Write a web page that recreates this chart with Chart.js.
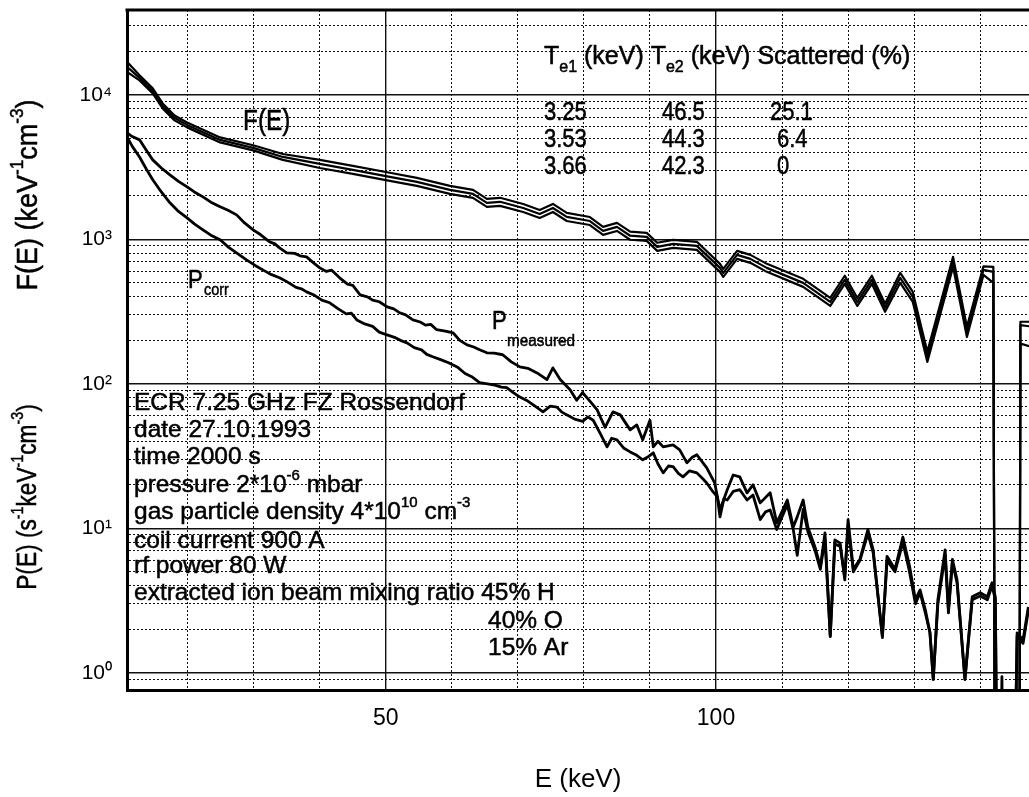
<!DOCTYPE html>
<html>
<head>
<meta charset="utf-8">
<title>ECR bremsstrahlung spectrum</title>
<script src="https://cdn.jsdelivr.net/npm/chart.js@4.4.1/dist/chart.umd.min.js"></script>
<style>
  html, body { margin: 0; padding: 0; background: #fff; }
</style>
</head>
<body>
<canvas id="chart" width="1029" height="797"></canvas>
<script>
// F(E): three fits (one per row of the table)
const fEnergy = [10.8, 12.7, 14.7, 16.2, 18.0, 19.9, 24.9, 29.9, 34.4, 40.0, 45.0, 50.6, 54.7, 59.7, 63.2, 65.3, 67.3,
  70.8, 73.3, 75.3, 77.4, 80.9, 82.9, 85.0, 87.0, 89.5, 91.1, 93.5, 97.1, 100.6, 101.1, 103.2, 105.2, 107.7, 113.2,
  117.3, 119.5, 121.4, 123.6, 125.6, 127.9, 129.8, 132.0, 135.9, 138.0, 140.5, 142.0, 142.3, 145.9, 146.1, 147.5];
const fTop = [16930, 13660, 11100, 8730, 7210, 6450, 5080, 4480, 3900, 3550, 3230, 2890, 2665, 2345, 2200, 1908, 1940,
  1759, 1599, 1759, 1524, 1428, 1221, 1300, 1130, 1109, 947, 992, 962, 677, 625, 833, 781, 677, 533,
  393, 560, 393, 560, 358, 587, 433, 167, 757, 248, 650, 645, 0.01, 0.01, 269, 269];
const fMid = [15630, 13120, 10660, 8390, 6930, 6200, 4880, 4300, 3720, 3330, 3030, 2710, 2500, 2200, 2065, 1790, 1820,
  1650, 1500, 1650, 1430, 1340, 1145, 1220, 1060, 1040, 888, 931, 902, 635, 586, 781, 733, 635, 500,
  369, 525, 369, 525, 336, 542, 400, 154, 699, 229, 615, 596, 0.01, 0.01, 255, 250];
const fBottom = [14430, 12600, 10240, 8060, 6660, 5960, 4690, 4130, 3550, 3120, 2840, 2540, 2345, 2065, 1937, 1679, 1707,
  1548, 1407, 1548, 1341, 1257, 1074, 1144, 994, 976, 833, 873, 846, 596, 550, 733, 688, 596, 469,
  346, 492, 346, 492, 315, 500, 369, 142, 645, 211, 568, 500, 0.01, 0.01, 190, 182];

// P measured
const measEnergy = [10.8, 11.6, 12.7, 13.7, 14.7, 16.0, 17.3, 18.6, 19.9, 21.0, 22.3, 23.5, 24.9, 26.1, 27.4, 28.6, 29.9,
  31.0, 32.4, 33.2, 33.9, 35.0, 36.2, 37.0, 38.0, 39.0, 40.0, 41.0, 41.8, 43.0, 44.2, 45.0, 46.1, 47.2, 48.0, 49.0,
  50.2, 51.2, 52.0, 53.0, 54.1, 55.2, 56.0, 56.8, 57.7, 59.0, 60.2, 61.2, 62.3, 63.3, 64.2, 65.3, 66.4, 67.7, 69.0,
  70.3, 71.5, 72.9, 74.4, 75.3, 76.4, 77.9, 78.9, 79.8, 81.0, 82.0, 83.2, 84.4, 85.5, 87.0, 88.0, 88.9, 90.0, 90.5,
  91.2, 92.0, 93.5, 94.5, 95.6, 96.4, 97.1, 98.6, 99.8, 100.6, 101.7, 102.6, 103.6, 104.7, 105.6, 106.7, 108.2, 109.2,
  110.8, 111.7, 112.3, 113.2, 113.9, 115.0, 115.8, 116.5, 117.3, 118.0, 118.8, 119.5, 120.0, 120.8, 121.8, 123.0,
  123.8, 125.2, 125.9, 127.1, 128.3, 129.3, 130.2, 130.9, 131.7, 132.4, 132.9, 133.6, 134.7, 135.2, 135.8, 136.5,
  137.7, 138.8, 140.0, 141.1, 141.8, 142.3, 142.8, 143.3, 143.6, 144.8, 145.6, 146.5, 147.3];
const measValues = [5460, 5150, 4885, 4150, 3550, 3120, 2795, 2520, 2307, 2130, 1968, 1810, 1680, 1590, 1478, 1300, 1164,
  1080, 961, 930, 873, 807, 800, 770, 757, 690, 635, 600, 612, 542, 490, 480, 413, 400, 380, 370,
  341, 330, 312, 300, 277, 268, 255, 258, 237, 232, 225, 200, 186, 180, 172, 164, 163, 159, 142,
  131, 128, 119, 107, 129, 107, 91, 77, 87, 75, 66, 50, 64, 61, 48, 52, 41, 56, 36.6,
  40, 36.6, 37.8, 34.9, 28.4, 31, 32.3, 26.2, 20.6, 13.4, 18.5, 23.4, 22.7, 17.6, 20, 15, 17.6, 10.9,
  15.7, 10.2, 12, 15.7, 10.2, 7.4, 5.4, 9.3, 1.78, 8.3, 7.9, 4.4, 11.5, 5.2, 6.1, 9.8,
  7.1, 1.75, 6.4, 5.2, 8.7, 5.5, 3.2, 3.75, 2.73, 1.89, 0.9, 3.2, 7.1, 2.73, 6.1, 4.4,
  0.9, 3.36, 3.58, 3.36, 4.2, 3.36, 0.01, 0.94, 0.01, 0.01, 1.89, 1.69, 2.86];

// P corrected
const corrEnergy = [10.8, 11.6, 12.7, 13.7, 14.7, 16.0, 17.3, 18.6, 19.9, 21.0, 22.3, 23.5, 24.9, 26.2, 27.5, 28.9, 30.2,
  31.5, 32.7, 33.9, 35.0, 36.4, 37.2, 38.0, 39.2, 40.3, 41.5, 42.8, 44.0, 44.8, 45.6, 46.8, 48.0, 49.0, 50.2,
  51.3, 52.2, 53.2, 54.3, 55.4, 56.2, 57.1, 58.3, 59.5, 60.8, 62.0, 63.0, 64.2, 65.4, 66.5, 67.5, 68.3, 69.3,
  70.3, 71.5, 72.6, 73.8, 74.9, 75.9, 76.6, 77.4, 78.6, 79.8, 80.6, 81.4, 82.5, 83.5, 84.2, 85.0, 86.0, 87.0,
  88.0, 88.9, 89.6, 90.5, 91.2, 92.0, 92.8, 93.5, 94.3, 95.0, 96.0, 97.1, 98.0, 98.6, 99.5, 100.2, 100.6,
  101.2, 101.7, 102.6, 103.6, 104.7, 105.6, 106.7, 107.5, 108.2, 109.2, 110.8, 111.7, 112.3, 113.2, 113.9,
  115.0, 115.8, 116.5, 117.3, 118.0, 118.8, 119.5, 120.0, 120.8, 121.8, 123.0, 123.8, 125.2, 125.9, 127.1,
  128.3, 129.3, 130.2, 130.9, 131.7, 132.4, 132.9, 133.6, 134.7, 135.2, 135.8, 136.5, 137.7, 138.8, 140.0,
  141.1, 141.8, 142.3, 142.8, 144.8, 145.6, 146.5, 147.3];
const corrValues = [5120, 4400, 3720, 3080, 2585, 2130, 1790, 1560, 1409, 1280, 1164, 1070, 993, 880, 800, 721, 660,
  610, 570, 542, 510, 465, 455, 433, 410, 380, 364, 330, 305, 308, 277, 260, 250, 228, 218,
  210, 200, 192, 178, 172, 160, 154, 147, 140, 131, 118, 112, 102, 100, 98, 95, 94, 87,
  81, 76, 70, 64, 70, 69, 64, 61, 57, 55, 59, 56, 45, 36.6, 42, 41, 36, 33.8,
  32, 29.8, 31, 33.3, 28, 24.2, 27, 26.7, 24, 22.7, 25, 24.2, 22, 20.6, 18, 16.5, 12.0,
  16, 15.7, 18, 18.5, 15.7, 17, 11.5, 13, 13.4, 9.8, 14.6, 9.8, 6.5, 13.5, 9.5,
  7.0, 5.2, 8.5, 1.8, 7.8, 7.5, 4.6, 10.5, 5.0, 6.0, 9.2, 6.8, 1.8, 6.0, 5.0,
  8.0, 5.0, 3.0, 3.6, 2.6, 1.9, 0.9, 3.0, 6.5, 2.6, 5.8, 4.2, 0.9, 3.2, 3.4,
  3.2, 4.0, 3.2, 0.01, 0.01, 1.8, 1.6, 2.7];

// axes
const xGridTicks = [20, 30, 40, 50, 60, 70, 80, 90, 100, 110, 120, 130, 140];
const xLabelTicks = [50, 100];
const yDecades = [1, 10, 100, 1000, 10000];
const yTickLabels = ['10⁰', '10¹', '10²', '10³', '10⁴'];

// table of fit results
const te1 = ['3.25', '3.53', '3.66'];
const te2 = ['46.5', '44.3', '42.3'];
const scattered = ['25.1', '6.4', '0'];

const SANS = "'Liberation Sans', Arial, sans-serif";

const yGridTicks = [0.9];
yDecades.forEach(d => { for (let m = 1; m <= 9; m++) yGridTicks.push(m * d); });
yGridTicks.splice(yGridTicks.indexOf(40000));

function pts(xs, ys) { return xs.map((x, i) => ({ x, y: ys[i] })); }

// text with super/subscripts; sx squeezes it sideways like the narrow plot font
function drawRich(ctx, parts, x, y, size, align, sx) {
  sx = sx || 1;
  const small = Math.round(size * 0.62);
  const widths = parts.map(([t, k]) => {
    ctx.font = (k === 'n' ? size : small) + 'px ' + SANS;
    return ctx.measureText(t).width;
  });
  const total = widths.reduce((a, b) => a + b, 0);
  ctx.save();
  ctx.translate(x, y);
  ctx.scale(sx, 1);
  let cx = align === 'center' ? -total / 2 : 0;
  ctx.textAlign = 'left';
  ctx.textBaseline = 'middle';
  ctx.lineWidth = 0.5;
  ctx.strokeStyle = '#000';
  parts.forEach(([t, k], i) => {
    ctx.font = (k === 'n' ? size : small) + 'px ' + SANS;
    const dy = k === 'sup' ? -size * 0.38 : k === 'sub' ? size * 0.42 : 0;
    ctx.fillText(t, cx, dy);
    ctx.strokeText(t, cx, dy);
    cx += widths[i];
  });
  ctx.restore();
}

const notes = [
  { parts: [['ECR 7.25 GHz FZ Rossendorf', 'n']], x: 134, y: 403 },
  { parts: [['date 27.10.1993', 'n']], x: 134, y: 430 },
  { parts: [['time 2000 s', 'n']], x: 134, y: 457 },
  { parts: [['pressure 2*10', 'n'], ['-6', 'sup'], [' mbar', 'n']], x: 134, y: 485 },
  { parts: [['gas particle density 4*10', 'n'], ['10', 'sup'], [' cm', 'n'], ['-3', 'sup']], x: 134, y: 512 },
  { parts: [['coil current 900 A', 'n']], x: 134, y: 541 },
  { parts: [['rf power 80 W', 'n']], x: 134, y: 566 },
  { parts: [['extracted ion beam mixing ratio 45% H', 'n']], x: 134, y: 593 },
  { parts: [['40% O', 'n']], x: 488, y: 621 },
  { parts: [['15% Ar', 'n']], x: 488, y: 648 },
  { parts: [['T', 'n'], ['e1', 'sub'], [' (keV) T', 'n'], ['e2', 'sub'], [' (keV) Scattered (%)', 'n']], x: 544, y: 57, size: 25, sx: 1.0 },
  { parts: [['F(E)', 'n']], x: 243, y: 122, size: 29, sx: 0.84 },
  { parts: [['P', 'n']], x: 188, y: 281, size: 26, sx: 0.85 },
  { parts: [['corr', 'n']], x: 204, y: 290, size: 17, sx: 0.85 },
  { parts: [['P', 'n']], x: 492, y: 322, size: 26, sx: 0.85 },
  { parts: [['measured', 'n']], x: 507, y: 341, size: 17, sx: 0.9 }
];

const textPlugin = {
  id: 'texts',
  beforeDraw(chart) {
    const { ctx } = chart;
    ctx.save();
    ctx.fillStyle = '#fff';
    ctx.fillRect(0, 0, chart.width, chart.height);
    ctx.restore();
  },
  afterDraw(chart) {
    const { ctx, chartArea } = chart;
    ctx.save();
    // top frame
    ctx.strokeStyle = '#000';
    ctx.lineWidth = 3;
    ctx.beginPath();
    ctx.moveTo(chartArea.left - 1.5, chartArea.top);
    ctx.lineTo(chartArea.right, chartArea.top);
    ctx.stroke();

    ctx.fillStyle = '#000';
    notes.forEach(n => drawRich(ctx, n.parts, n.x, n.y, n.size || 24.5, 'left', n.sx));
    const rowY = [113, 140, 167];
    const col3 = [770, 777, 777];
    rowY.forEach((y, i) => {
      drawRich(ctx, [[te1[i], 'n']], 544, y, 25, 'left', 0.88);
      drawRich(ctx, [[te2[i], 'n']], 662, y, 25, 'left', 0.88);
      drawRich(ctx, [[scattered[i], 'n']], col3[i], y, 25, 'left', 0.88);
    });

    // rotated y titles
    const titles = [
      { parts: [['F(E) (keV', 'n'], ['-1', 'sup'], ['cm', 'n'], ['-3', 'sup'], [')', 'n']], y: 195, size: 30, sx: 0.9 },
      { parts: [['P(E) (s', 'n'], ['-1', 'sup'], ['keV', 'n'], ['-1', 'sup'], ['cm', 'n'], ['-3', 'sup'], [')', 'n']], y: 497, size: 27, sx: 0.84 }
    ];
    titles.forEach(t => {
      ctx.save();
      ctx.translate(29, t.y);
      ctx.rotate(-Math.PI / 2);
      drawRich(ctx, t.parts, 0, 0, t.size, 'center', t.sx);
      ctx.restore();
    });
    ctx.restore();
  }
};

const lineStyle = (w) => ({ borderColor: '#000', borderWidth: w, pointRadius: 0, tension: 0, fill: false, borderJoinStyle: 'round' });

new Chart(document.getElementById('chart'), {
  type: 'line',
  data: {
    datasets: [
      { label: 'F(E) 1', data: pts(fEnergy, fTop), ...lineStyle(2.2) },
      { label: 'F(E) 2', data: pts(fEnergy, fMid), ...lineStyle(2.2) },
      { label: 'F(E) 3', data: pts(fEnergy, fBottom), ...lineStyle(2.2) },
      { label: 'P measured', data: pts(measEnergy, measValues), ...lineStyle(2.8) },
      { label: 'P corr', data: pts(corrEnergy, corrValues), ...lineStyle(2.8) }
    ]
  },
  options: {
    responsive: false,
    animation: false,
    layout: { padding: { top: 10, left: 0, right: 0, bottom: 0 } },
    plugins: { legend: { display: false }, tooltip: { enabled: false } },
    scales: {
      x: {
        type: 'linear',
        min: 10.8,
        max: 147.4,
        afterBuildTicks: s => { s.ticks = xGridTicks.map(v => ({ value: v })); },
        afterFit: s => { s.height = 107; s.paddingLeft = 0; s.paddingRight = 0; },
        grid: {
          drawTicks: false,
          color: '#111',
          lineWidth: c => (c.tick && xLabelTicks.includes(c.tick.value)) ? 1.4 : 1
        },
        border: {
          color: '#000',
          width: 3,
          dash: c => (c.tick && xLabelTicks.includes(c.tick.value)) ? [] : [2, 2]
        },
        ticks: {
          autoSkip: false,
          maxRotation: 0,
          padding: 15,
          color: '#000',
          font: { family: SANS, size: 23 },
          callback: v => xLabelTicks.includes(v) ? String(v) : ''
        },
        title: {
          display: true,
          text: 'E (keV)',
          color: '#000',
          font: { family: SANS, size: 26 },
          padding: { top: 0, bottom: 2 }
        }
      },
      y: {
        type: 'logarithmic',
        min: 0.76,
        max: 38700,
        afterBuildTicks: s => { s.ticks = yGridTicks.map(v => ({ value: v })); },
        afterFit: s => { s.width = 127; s.paddingTop = 0; s.paddingBottom = 0; },
        grid: {
          drawTicks: false,
          color: '#111',
          lineWidth: c => (c.tick && yDecades.includes(c.tick.value)) ? 1.4 : 1
        },
        border: {
          color: '#000',
          width: 3,
          dash: c => (c.tick && yDecades.includes(c.tick.value)) ? [] : [2, 2]
        },
        ticks: {
          autoSkip: false,
          padding: 15,
          color: '#000',
          font: { family: SANS, size: 21 },
          callback: v => {
            const i = yDecades.indexOf(v);
            return i >= 0 ? yTickLabels[i] : '';
          }
        }
      }
    }
  },
  plugins: [textPlugin]
});
</script>
</body>
</html>
